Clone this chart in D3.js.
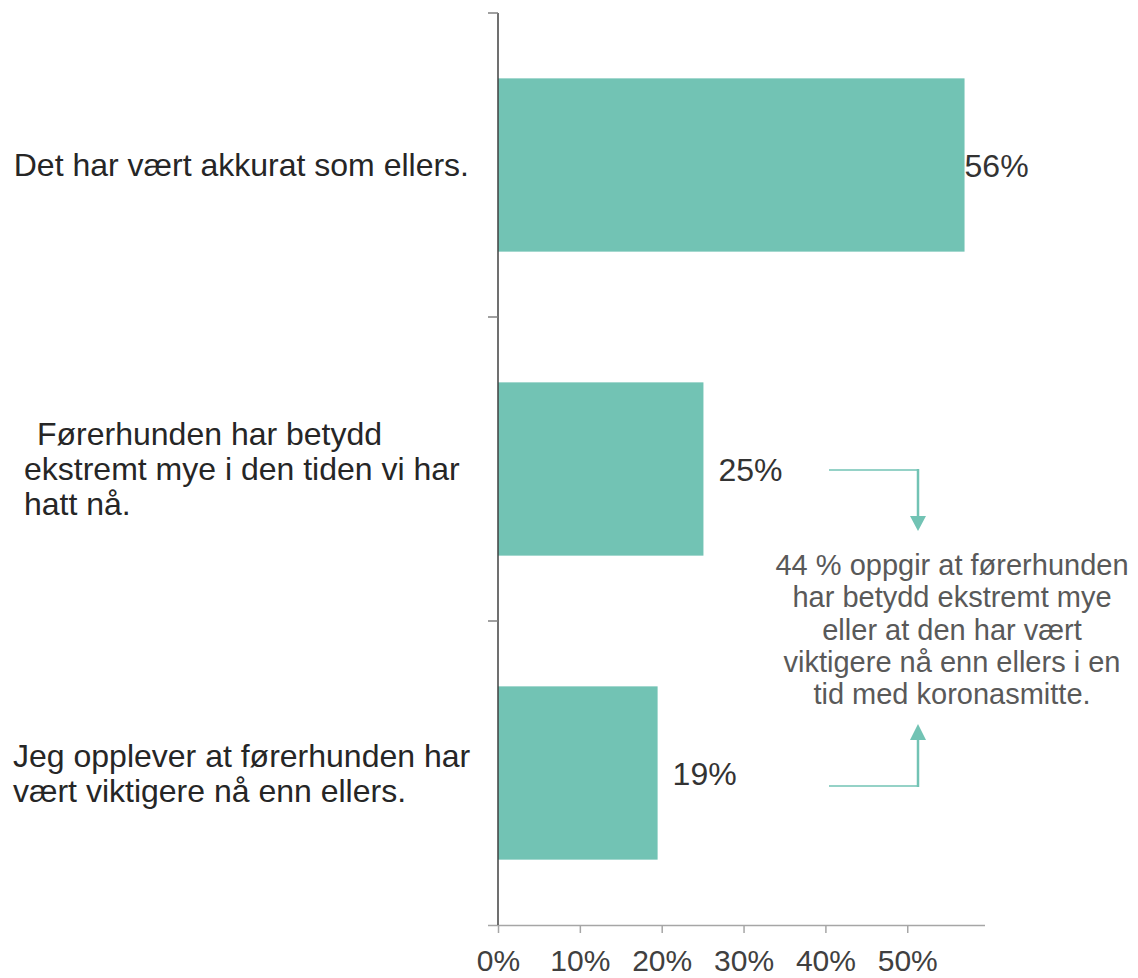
<!DOCTYPE html>
<html><head><meta charset="utf-8">
<script src="https://cdn.jsdelivr.net/npm/d3@7"></script>
<style>body{margin:0;background:#fff}svg{display:block;font-family:"Liberation Sans",Arial,sans-serif}</style>
</head><body><svg id="c" width="1138" height="978"></svg>
<script>
const categories = [
  ["Det har vært akkurat som ellers."],
  ["Førerhunden har betydd", "ekstremt mye i den tiden vi har", "hatt nå."],
  ["Jeg opplever at førerhunden har", "vært viktigere nå enn ellers."]
];
const values = [0.57, 0.251, 0.195];
const valueLabels = ["56%", "25%", "19%"];
const tickValues = [0, 0.1, 0.2, 0.3, 0.4, 0.5];
const tickLabels = ["0%", "10%", "20%", "30%", "40%", "50%"];
const annotation = ["44 % oppgir at førerhunden", "har betydd ekstremt mye", "eller at den har vært", "viktigere nå enn ellers i en", "tid med koronasmitte."];

const svg = d3.select("#c");
const color = "#72c3b4";
const x = d3.scaleLinear().domain([0, 0.595]).range([498, 985]);
const y = d3.scaleBand().domain(d3.range(categories.length)).range([13, 925]).paddingInner(0.43).paddingOuter(0.215);

// bars
svg.selectAll("rect.bar").data(values).join("rect")
  .attr("x", x(0)).attr("y", (d,i)=>y(i)).attr("width", d=>x(d)-x(0)).attr("height", y.bandwidth())
  .attr("fill", color);

// x axis
const xa = svg.append("g").attr("transform", "translate(0,925)")
  .call(d3.axisBottom(x).tickValues(tickValues).tickFormat((d,i)=>tickLabels[i]).tickSize(8).tickPadding(17));
xa.select(".domain").attr("stroke", "#a6a6a6").attr("stroke-width", 1.5).attr("d", `M${x(0)-10},0.5H985`);
xa.selectAll(".tick line").attr("stroke", "#a6a6a6").attr("stroke-width", 1.5);
xa.selectAll(".tick text").attr("font-size", 30).attr("fill", "#404040").attr("font-family", "Liberation Sans, Arial, sans-serif");

// y axis
const ya = svg.append("g").attr("transform", `translate(${x(0)},0)`);
ya.append("line").attr("x1", 0).attr("x2", 0).attr("y1", 13).attr("y2", 925).attr("stroke", "#404040").attr("stroke-width", 1.5);
const bounds = [13, ...d3.range(1, categories.length).map(i => (y(i-1)+y.bandwidth()+y(i))/2)];
ya.selectAll("line.t").data(bounds).join("line").attr("class","t")
  .attr("x1", -10).attr("x2", 0).attr("y1", d=>d).attr("y2", d=>d)
  .attr("stroke", "#808080").attr("stroke-width", 1.5);

// category labels
const catX = [null, 24, 13];
const catFirstX = [null, 37, 13];
categories.forEach((lines, i) => {
  const cy = y(i) + y.bandwidth()/2;
  const lh = 35;
  const g = svg.append("text").attr("font-size", 32).attr("fill", "#262626");
  lines.forEach((ln, j) => {
    const ty = cy + (j - (lines.length-1)/2)*lh + 11;
    const t = g.append("tspan").attr("y", ty).text(ln);
    if (i === 0) { t.attr("x", 469); g.attr("text-anchor", "end"); }
    else t.attr("x", j === 0 ? catFirstX[i] : catX[i]);
  });
});

// value labels
svg.selectAll("text.val").data(values).join("text")
  .attr("x", (d,i)=>x(d) + (i===0 ? 0 : 15))
  .attr("y", (d,i)=>y(i)+y.bandwidth()/2 + 12)
  .attr("font-size", 32).attr("fill", "#333").text((d,i)=>valueLabels[i]);

// annotation
const at = svg.append("text").attr("font-size", 29).attr("fill", "#595959").attr("text-anchor", "middle");
annotation.forEach((ln, j) => at.append("tspan").attr("x", 952).attr("y", 575 + j*32.3).text(ln));

// arrows
const ag = svg.append("g");
ag.append("path").attr("d", "M829,470H918").attr("stroke", color).attr("stroke-width", 1.5).attr("fill","none");
ag.append("path").attr("d", "M918,469V517").attr("stroke", color).attr("stroke-width", 2.5).attr("fill","none");
ag.append("path").attr("d", "M910,516L926,516L918,531Z").attr("fill", color);
ag.append("path").attr("d", "M829,786H918").attr("stroke", color).attr("stroke-width", 1.5).attr("fill","none");
ag.append("path").attr("d", "M918,787V739").attr("stroke", color).attr("stroke-width", 2.5).attr("fill","none");
ag.append("path").attr("d", "M910,740L926,740L918,724Z").attr("fill", color);
</script></body></html>
